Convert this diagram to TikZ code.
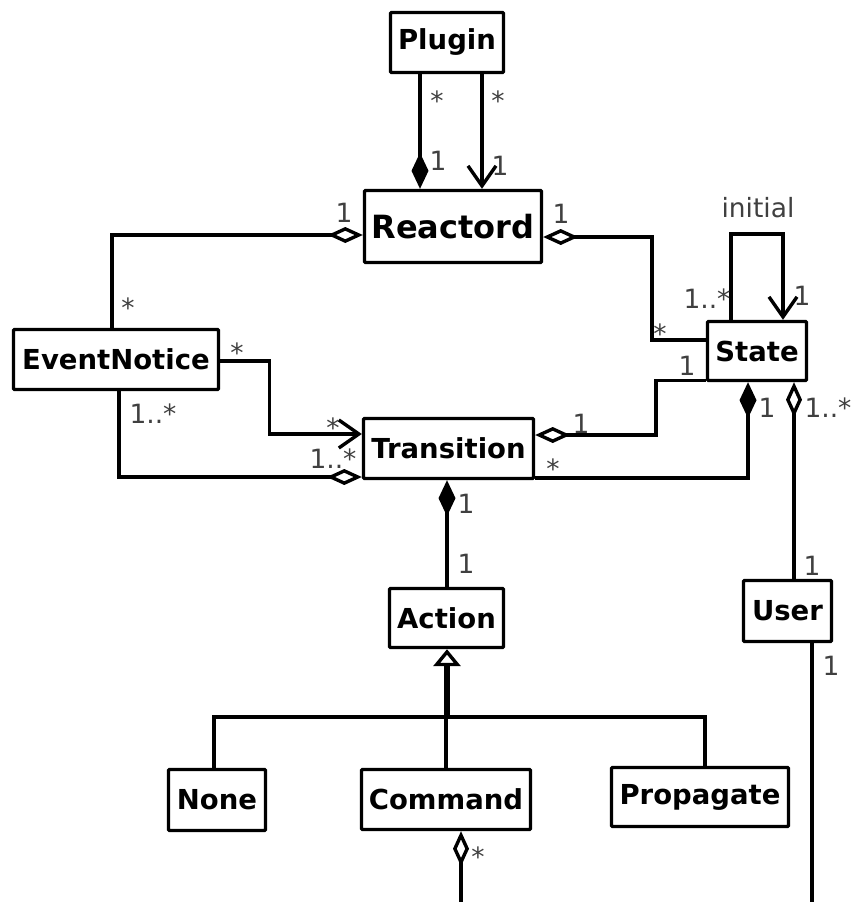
\documentclass[tikz,border=0pt]{standalone}
\usepackage{fontspec}
\setmainfont{DejaVu Sans}
\usetikzlibrary{arrows.meta}
\definecolor{lblgray}{RGB}{64,64,64}
\begin{document}
\begin{tikzpicture}[x=1pt,y=-1pt,
  line width=3.4pt, line join=miter,
  cls/.style={draw, fill=white, line width=3.4pt, rounded corners=1pt, inner sep=0pt,
    font=\fontsize{27.5}{31}\selectfont\bfseries},
  lbl/.style={anchor=base, text=lblgray, inner sep=0pt,
    font=\fontsize{26.5}{30}\selectfont},
  comp/.style={-{Diamond[length=36pt 0,width=17pt 0]}},
  aggr/.style={-{Diamond[open,length=35pt 0,width=16pt 0]}},
  nav/.style={-{Straight Barb[length=20pt 0,width=28pt 0]}},
  gen/.style={line width=6.5pt,-{Triangle[open,line width=3.4pt,length=17pt 0,width=27pt 0]}},
]
\useasboundingbox (0,0) rectangle (851,902);

% classes
\node[cls, minimum width=113pt, minimum height=60pt] (plugin) at (447,42.5) {Plugin};
\node[cls, font=\fontsize{32}{36}\selectfont\bfseries, minimum width=177pt, minimum height=72pt] (reactord) at (453,226.5) {Reactord};
\node[cls, minimum width=99pt, minimum height=59pt] (state) at (757,351) {State};
\node[cls, minimum width=205pt, minimum height=60pt] (eventnotice) at (116,359.5) {EventNotice};
\node[cls, minimum width=170pt, minimum height=60pt] (transition) at (448.5,448.5) {Transition};
\node[cls, minimum width=114pt, minimum height=59pt] (action) at (446.5,618) {Action};
\node[cls, minimum width=88pt, minimum height=61pt] (user) at (787.5,611) {User};
\node[cls, minimum width=97pt, minimum height=61pt] (none) at (217,800) {None};
\node[cls, minimum width=169pt, minimum height=60pt] (command) at (446,799.5) {Command};
\node[cls, minimum width=177pt, minimum height=59pt] (propagate) at (700,797) {Propagate};

\coordinate (genbar) at (447,717);
\coordinate (loopc) at (461,903.3);

% associations
\draw[comp] ([xshift=-27pt]plugin.south) -- ([xshift=-33pt]reactord.north);
\draw[nav] ([xshift=35pt]plugin.south) -- ([xshift=29pt]reactord.north);
\draw[aggr] ([xshift=-4pt]eventnotice.north) |- ([yshift=-8.5pt]reactord.west);
\draw[aggr] ([yshift=11pt]state.west) -- ++(-54,0) |- ([yshift=-10.5pt]reactord.east);
\draw[nav] ([xshift=-26pt]state.north) -- ++(0,-86) -| ([xshift=26pt]state.north);
\draw[nav] ([yshift=-1.5pt]eventnotice.east) -- ++(49,0) |- ([yshift=14.5pt]transition.west);
\draw[aggr] ([xshift=3pt]eventnotice.south) |- ([yshift=-28.5pt]transition.west);
\draw[aggr] ([yshift=-29.5pt]state.west) -- ++(-50,0) |- ([yshift=13.5pt]transition.east);
\draw[comp] ([yshift=-29.5pt]transition.east) -| ([xshift=-9pt]state.south);
\draw[aggr] ([xshift=6.5pt]user.north) -- ([xshift=37pt]state.south);
\draw[comp] ([xshift=0.5pt]action.north) -- ([xshift=-1.5pt]transition.south);
\draw[aggr] ([xshift=24.5pt]user.south) |- (loopc) -- ([xshift=15pt]command.south);

% generalization
\draw ([xshift=-3pt]none.north) |- (genbar) -| ([xshift=5pt]propagate.north);
\draw (command.north) -- (command.north |- genbar);
\draw[gen] (genbar) -- ([xshift=0.5pt]action.south);

% multiplicities and role names
\node[lbl] (lA) at (437,110) {*};
\node[lbl] (lB) at (438,170) {1};
\node[lbl] (lC) at (498,110) {*};
\node[lbl] (lD) at (500,175) {1};
\node[lbl] (lE) at (344,222) {1};
\node[lbl] (lF) at (561,223) {1};
\node[lbl] (lG) at (758,217) {initial};
\node[lbl] (lH) at (707,308) {1..*};
\node[lbl] (lI) at (802,305) {1};
\node[lbl] (lJ) at (660,343) {*};
\node[lbl] (lK) at (687,375) {1};
\node[lbl] (lL) at (767,417) {1};
\node[lbl] (lM) at (828,417) {1..*};
\node[lbl] (lN) at (128,317) {*};
\node[lbl] (lO) at (237,362) {*};
\node[lbl] (lP) at (153,423) {1..*};
\node[lbl] (lQ) at (333,437) {*};
\node[lbl] (lR) at (333,468) {1..*};
\node[lbl] (lS) at (581,433) {1};
\node[lbl] (lT) at (553,478) {*};
\node[lbl] (lU) at (466,513) {1};
\node[lbl] (lV) at (466,573) {1};
\node[lbl] (lW) at (812,575) {1};
\node[lbl] (lX) at (831,675) {1};
\node[lbl] (lY) at (478,866) {*};
\end{tikzpicture}
\end{document}
